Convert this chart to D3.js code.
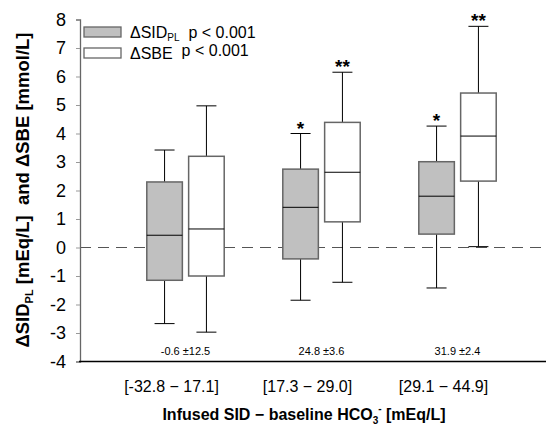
<!DOCTYPE html>
<html>
<head>
<meta charset="utf-8">
<script src="https://cdn.jsdelivr.net/npm/d3@7"></script>
<style>
  body { margin: 0; background: #fff; }
  text { font-family: "Liberation Sans", Arial, sans-serif; }
</style>
</head>
<body>
<div id="chart"></div>
<script>
// categories (infused SID - baseline HCO3 ranges)
var categories = ["[-32.8 \u2212 17.1]", "[17.3 \u2212 29.0]", "[29.1 \u2212 44.9]"];
var meanLabels = ["-0.6 \u00b112.5", "24.8 \u00b13.6", "31.9 \u00b12.4"];

// box stats: [whisker low, q1, median, q3, whisker high]
var sidPL = [[-2.67, -1.15, 0.43, 2.30, 3.42],
             [-1.85, -0.40, 1.41, 2.75, 4.00],
             [-1.42, 0.47, 1.80, 3.01, 4.26]];
var sbe   = [[-2.97, -1.00, 0.65, 3.20, 4.97],
             [-1.22, 0.90, 2.64, 4.39, 6.15],
             [0.03, 2.33, 3.91, 5.42, 7.76]];
var sidMarks = ["", "*", "*"];
var sbeMarks = ["", "**", "**"];

var yTicks = [-4, -3, -2, -1, 0, 1, 2, 3, 4, 5, 6, 7, 8];

var svg = d3.select("#chart").append("svg")
    .attr("width", 551)
    .attr("height", 430);

var plot = {left: 80, right: 546, top: 19.5, bottom: 361.5};

var y = d3.scaleLinear().domain([-4, 8]).range([plot.bottom, plot.top]);
var x = d3.scaleBand().domain(categories).range([117.5, 525.5]);
var sub = d3.scaleBand().domain(["sid", "sbe"]).range([0, x.bandwidth()]).paddingInner(0.15).paddingOuter(0.7);

// zero reference line
svg.append("line")
    .attr("x1", plot.left).attr("x2", plot.right)
    .attr("y1", y(0)).attr("y2", y(0))
    .attr("stroke", "#555").attr("stroke-width", 1)
    .attr("stroke-dasharray", "11,7");

// y axis
var yAxis = svg.append("g")
    .attr("transform", "translate(" + plot.left + ",0)")
    .call(d3.axisLeft(y).tickValues(yTicks).tickSize(4).tickPadding(10).tickFormat(d3.format("d")));
yAxis.select(".domain").attr("stroke", "#666").attr("stroke-width", 1.3);
yAxis.selectAll(".tick line").attr("stroke", "#999");
yAxis.selectAll(".tick text")
    .attr("font-size", 18).attr("fill", "#000")
    .style("font-family", "'Liberation Sans', Arial, sans-serif")
    .text(function(d) { return d < 0 ? "-" + Math.abs(d) : d; });

// x axis line
svg.append("line")
    .attr("x1", plot.left - 1).attr("x2", plot.right)
    .attr("y1", plot.bottom).attr("y2", plot.bottom)
    .attr("stroke", "#000").attr("stroke-width", 1.3);

// draw the boxes
function drawBoxes(stats, key, fill, marks) {
  var bw = sub.bandwidth();
  var g = svg.append("g").selectAll("g")
    .data(stats)
    .enter().append("g")
      .attr("transform", function(d, i) { return "translate(" + (x(categories[i]) + sub(key)) + ",0)"; });

  // whiskers
  g.append("line")
      .attr("x1", bw / 2).attr("x2", bw / 2)
      .attr("y1", function(d) { return y(d[0]); })
      .attr("y2", function(d) { return y(d[1]); })
      .attr("stroke", "#000");
  g.append("line")
      .attr("x1", bw / 2).attr("x2", bw / 2)
      .attr("y1", function(d) { return y(d[3]); })
      .attr("y2", function(d) { return y(d[4]); })
      .attr("stroke", "#000");
  // caps
  g.selectAll(".cap")
    .data(function(d) { return [d[0], d[4]]; })
    .enter().append("line")
      .attr("class", "cap")
      .attr("x1", bw / 2 - 10).attr("x2", bw / 2 + 10)
      .attr("y1", function(v) { return y(v); })
      .attr("y2", function(v) { return y(v); })
      .attr("stroke", "#000");
  // box
  g.append("rect")
      .attr("x", 0).attr("width", bw)
      .attr("y", function(d) { return y(d[3]); })
      .attr("height", function(d) { return y(d[1]) - y(d[3]); })
      .attr("fill", fill)
      .attr("stroke", "#666").attr("stroke-width", 1.5);
  // median
  g.append("line")
      .attr("x1", 0).attr("x2", bw)
      .attr("y1", function(d) { return y(d[2]); })
      .attr("y2", function(d) { return y(d[2]); })
      .attr("stroke", "#000");
  // significance marks
  g.append("text")
      .attr("x", bw / 2)
      .attr("y", function(d) { return y(d[4]) + 1; })
      .attr("text-anchor", "middle")
      .attr("font-size", 19).attr("font-weight", "bold")
      .text(function(d, i) { return marks[i]; });
}

drawBoxes(sidPL, "sid", "#c0c0c0", sidMarks);
drawBoxes(sbe, "sbe", "#fff", sbeMarks);

// mean labels above x axis
svg.append("g").selectAll("text")
  .data(meanLabels)
  .enter().append("text")
    .attr("x", function(d, i) { return x(categories[i]) + x.bandwidth() / 2; })
    .attr("y", 355)
    .attr("text-anchor", "middle")
    .attr("font-size", 11)
    .text(function(d) { return d; });

// category labels
svg.append("g").selectAll("text")
  .data(categories)
  .enter().append("text")
    .attr("x", function(d) { return x(d) + x.bandwidth() / 2 - 14; })
    .attr("y", 392)
    .attr("text-anchor", "middle")
    .attr("font-size", 16)
    .text(function(d) { return d; });

// x title
var xt = svg.append("text")
    .attr("x", 304).attr("y", 420)
    .attr("text-anchor", "middle")
    .attr("font-size", 16).attr("font-weight", "bold");
xt.append("tspan").text("Infused SID \u2212 baseline HCO");
xt.append("tspan").attr("font-size", 10).attr("dy", 4).text("3");
xt.append("tspan").attr("font-size", 10).attr("dy", -12).text("-");
xt.append("tspan").attr("dy", 8).text("\u00a0[mEq/L]");

// y title
var yt = svg.append("text")
    .attr("transform", "translate(29,190) rotate(-90)")
    .attr("text-anchor", "middle")
    .attr("font-size", 18.5).attr("font-weight", "bold");
yt.append("tspan").text("\u0394SID");
yt.append("tspan").attr("font-size", 11).attr("dy", 4).text("PL");
yt.append("tspan").attr("dy", -4).text("\u00a0[mEq/L]\u00a0\u00a0and \u0394SBE [mmol/L]");

// legend
var legendItems = [
  {label: "\u0394SID", sub: "PL", fill: "#c0c0c0"},
  {label: "\u0394SBE", sub: "", fill: "#fff"}
];
var lg = svg.append("g").selectAll("g")
  .data(legendItems)
  .enter().append("g")
    .attr("transform", function(d, i) { return "translate(84," + (27 + i * 21) + ")"; });
lg.append("rect")
    .attr("width", 37).attr("height", 10)
    .attr("fill", function(d) { return d.fill; })
    .attr("stroke", "#666").attr("stroke-width", 1.3);
var lt = lg.append("text")
    .attr("x", 46).attr("y", 11)
    .attr("font-size", 16);
lt.append("tspan").text(function(d) { return d.label; });
lt.append("tspan").attr("font-size", 10).attr("dy", 3).text(function(d) { return d.sub; });
lt.append("tspan").attr("dy", -3).text("\u00a0\u00a0p < 0.001");
</script>
</body>
</html>
